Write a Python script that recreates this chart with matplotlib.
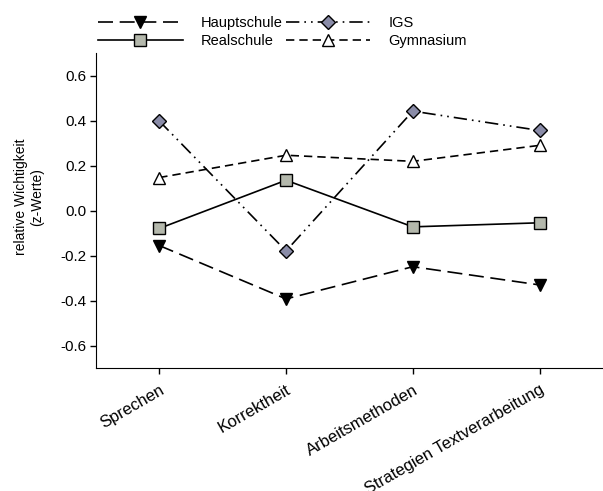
import matplotlib.pyplot as plt

plt.rcParams['font.family'] = ['Liberation Sans', 'DejaVu Sans']

# === Data ===
categories = ["Sprechen", "Korrektheit", "Arbeitsmethoden", "Strategien Textverarbeitung"]
hauptschule = [-0.155, -0.392, -0.249, -0.330]
realschule = [-0.079, 0.135, -0.072, -0.054]
igs = [0.398, -0.179, 0.442, 0.356]
gymnasium = [0.147, 0.246, 0.219, 0.290]
y_ticks = [-0.6, -0.4, -0.2, 0.0, 0.2, 0.4, 0.6]

x = list(range(1, len(categories) + 1))

# === Plot ===
fig = plt.figure(figsize=(6.03, 4.91), dpi=100)
ax = fig.add_axes([0.159, 0.25, 0.841, 0.642])

ax.plot(x, hauptschule, color='black', lw=1.2, dashes=(9, 4),
        marker='v', ms=9, mfc='black', mec='black', label='Hauptschule')
ax.plot(x, realschule, color='black', lw=1.2, linestyle='-',
        marker='s', ms=8, mfc='#b4b8ac', mec='black', label='Realschule')
ax.plot(x, igs, color='black', lw=1.2, dashes=(8, 3, 1, 3, 1, 3),
        marker='D', ms=7.5, mfc='#8a8ca8', mec='black', label='IGS')
ax.plot(x, gymnasium, color='black', lw=1.2, dashes=(5, 3),
        marker='^', ms=9, mfc='white', mec='black', label='Gymnasium')

ax.set_xlim(0.5, 4.5)
ax.set_ylim(-0.7, 0.7)
ax.set_yticks(y_ticks)
ax.set_yticklabels([f"{v:.1f}" for v in y_ticks])
ax.set_xticks(x)
ax.set_xticklabels(categories, rotation=30, ha='right', rotation_mode='anchor')
ax.tick_params(axis='x', labelsize=12, length=4, width=1, pad=6)
ax.tick_params(axis='y', labelsize=11, length=4, width=1, pad=3)
ax.set_ylabel("relative Wichtigkeit\n(z-Werte)", fontsize=10)
ax.yaxis.set_label_coords(-0.102, 0.543)

ax.spines['top'].set_visible(False)
ax.spines['right'].set_visible(False)

fig.legend(loc='upper left', bbox_to_anchor=(0.141, 0.994), ncol=2, frameon=False,
           handlelength=5.8, fontsize=10.5, columnspacing=0.2, handletextpad=1.25,
           labelspacing=0.25)

plt.savefig("out.png", dpi=100)
